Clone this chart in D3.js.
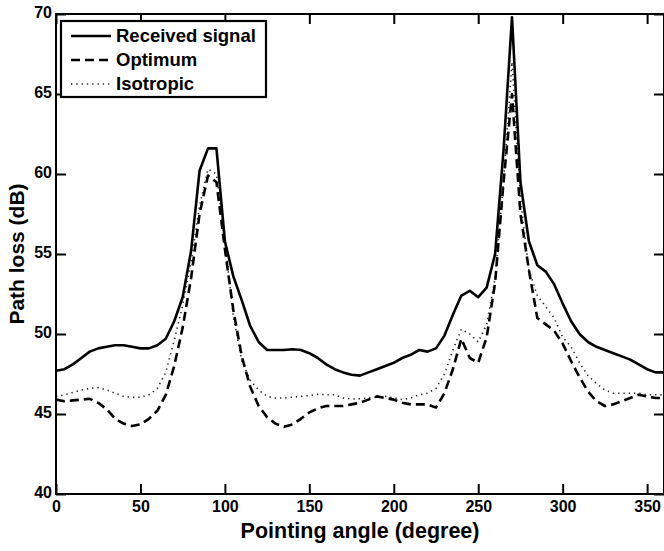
<!DOCTYPE html>
<html>
<head>
<meta charset="utf-8">
<script src="https://cdn.jsdelivr.net/npm/d3@7"></script>
<style>
  body { margin: 0; background: #fff; }
  svg { display: block; }
  text { font-family: "Liberation Sans", Arial, sans-serif; font-weight: bold; fill: #000; }
</style>
</head>
<body>
<div id="chart"></div>
<script>
// pointing angles (degree), one sample every 5 degrees
const angles = [0, 5, 10, 15, 20, 25, 30, 35, 40, 45, 50, 55, 60, 65, 70, 75, 80, 85, 90, 95,
  100, 105, 110, 115, 120, 125, 130, 135, 140, 145, 150, 155, 160, 165, 170, 175, 180, 185, 190, 195,
  200, 205, 210, 215, 220, 225, 230, 235, 240, 245, 250, 255, 260, 265, 270, 275, 280, 285, 290, 295,
  300, 305, 310, 315, 320, 325, 330, 335, 340, 345, 350, 355, 360];

const received = [47.7, 47.8, 48.1, 48.5, 48.9, 49.1, 49.2, 49.3, 49.3, 49.2, 49.1, 49.1, 49.3, 49.7, 50.8, 52.3, 55.2, 60.2, 61.6, 61.6,
  55.8, 53.6, 52.1, 50.5, 49.5, 49.0, 49.0, 49.0, 49.05, 49.0, 48.8, 48.5, 48.1, 47.8, 47.6, 47.45, 47.4, 47.6, 47.8, 48.0,
  48.2, 48.5, 48.7, 49.0, 48.9, 49.1, 49.9, 51.2, 52.4, 52.7, 52.3, 52.9, 55.0, 61.5, 69.8, 59.5, 55.8, 54.3, 53.9, 53.1,
  51.9, 50.8, 50.0, 49.5, 49.2, 49.0, 48.8, 48.6, 48.4, 48.1, 47.8, 47.6, 47.6];

const optimum = [45.9, 45.8, 45.85, 45.9, 45.95, 45.7, 45.3, 44.7, 44.4, 44.25, 44.35, 44.7, 45.2, 46.2, 48.0, 50.4, 53.5, 57.5, 59.9, 59.5,
  55.3, 51.5, 48.6, 46.7, 45.5, 44.8, 44.4, 44.2, 44.35, 44.7, 45.1, 45.35, 45.5, 45.5, 45.5, 45.6, 45.7, 45.9, 46.1, 46.0,
  45.9, 45.7, 45.6, 45.6, 45.6, 45.4, 46.3, 47.8, 49.7, 48.5, 48.2, 49.8, 53.2, 59.5, 65.0, 57.5, 54.0, 51.0, 50.6, 50.2,
  49.4, 48.3, 47.3, 46.4, 45.8, 45.5, 45.6, 45.8, 46.0, 46.2, 46.1, 46.0, 46.0];

const isotropic = [46.1, 46.2, 46.35, 46.5, 46.6, 46.65, 46.5, 46.3, 46.1, 46.04, 46.05, 46.2, 46.6, 47.6, 49.6, 51.8, 54.5, 58.0, 60.3, 60.0,
  55.8, 51.1, 48.3, 47.1, 46.5, 46.1, 46.0, 46.0, 46.05, 46.1, 46.15, 46.23, 46.2, 46.2, 46.0, 45.94, 45.95, 46.0, 46.05, 46.1,
  46.0, 45.9, 46.0, 46.2, 46.3, 46.6, 47.5, 49.0, 50.3, 50.0, 49.5, 50.6, 53.5, 59.5, 67.0, 58.5, 54.0, 52.4, 51.7, 51.0,
  49.8, 49.2, 48.2, 47.4, 46.9, 46.5, 46.3, 46.3, 46.3, 46.3, 46.2, 46.2, 46.2];

const xTicks = [0, 50, 100, 150, 200, 250, 300, 350];
const yTicks = [40, 45, 50, 55, 60, 65, 70];
const seriesNames = ['Received signal', 'Optimum', 'Isotropic'];

const svgWidth = 664;
const svgHeight = 551;
const margin = { top: 14, right: 0, bottom: 57, left: 56 };
const width = svgWidth - margin.left - margin.right;
const height = svgHeight - margin.top - margin.bottom;

const svg = d3.select('#chart')
    .append('svg')
    .attr('width', svgWidth)
    .attr('height', svgHeight)
    .append('g')
    .attr('transform', `translate(${margin.left},${margin.top})`);

const xScale = d3.scaleLinear().domain([0, 360]).range([0, width]);
const yScale = d3.scaleLinear().domain([40, 70]).range([height, 0]);

// line styles for the three series
const styles = [
    { data: received, dash: null, width: 2.6, color: '#000' },
    { data: optimum, dash: '9,5', width: 2.6, color: '#000' },
    { data: isotropic, dash: '1.3,4', width: 1.6, color: '#222' }
];

const line = d3.line()
    .x((d, i) => xScale(angles[i]))
    .y(d => yScale(d));

svg.append('clipPath').attr('id', 'clip')
    .append('rect').attr('width', width).attr('height', height);

const plot = svg.append('g').attr('clip-path', 'url(#clip)');

// draw isotropic first so the solid line sits on top
styles.slice().reverse().forEach(s => {
    plot.append('path')
        .datum(s.data)
        .attr('d', line)
        .attr('fill', 'none')
        .attr('stroke', s.color)
        .attr('stroke-width', s.width)
        .attr('stroke-dasharray', s.dash)
        .attr('stroke-linejoin', 'round');
});

// axes with inward ticks, mirrored on top and right
const tickLen = 10;
const xAxis = d3.axisBottom(xScale).tickValues(xTicks).tickSize(-tickLen).tickPadding(6);
const yAxis = d3.axisLeft(yScale).tickValues(yTicks).tickSize(-tickLen).tickPadding(4);

const gx = svg.append('g')
    .attr('transform', 'translate(0,' + height + ')')
    .call(xAxis);
const gy = svg.append('g').call(yAxis);

svg.append('g')
    .call(d3.axisTop(xScale).tickValues(xTicks).tickSize(-tickLen).tickFormat(''));
svg.append('g')
    .attr('transform', 'translate(' + width + ',0)')
    .call(d3.axisRight(yScale).tickValues(yTicks).tickSize(-tickLen).tickFormat(''));

svg.selectAll('.domain').remove();
svg.selectAll('.tick line').attr('stroke', '#000').attr('stroke-width', 2);

gx.selectAll('text').style('font-size', '16px').attr('dy', '0.75em');
gy.selectAll('text').style('font-size', '16px').attr('dy', '0.2em');

// frame
svg.append('rect')
    .attr('x', 0)
    .attr('y', 0)
    .attr('width', width)
    .attr('height', height)
    .style('fill', 'none')
    .style('stroke', 'black')
    .style('stroke-width', 2);

// axis labels
svg.append('text')
    .attr('x', width / 2)
    .attr('y', height + 44)
    .attr('text-anchor', 'middle')
    .style('font-size', '21.5px')
    .text('Pointing angle (degree)');

svg.append('text')
    .attr('x', -height / 2)
    .attr('y', -margin.left + 24)
    .attr('transform', 'rotate(-90)')
    .attr('text-anchor', 'middle')
    .style('font-size', '21px')
    .text('Path loss (dB)');

// legend
const legend = svg.append('g').attr('transform', 'translate(5,7)');
legend.append('rect')
    .attr('width', 205)
    .attr('height', 76)
    .style('fill', '#fff')
    .style('stroke', '#000')
    .style('stroke-width', 2.2);

seriesNames.forEach((name, i) => {
    const yy = 15 + i * 24;
    legend.append('line')
        .attr('x1', 10).attr('x2', 50)
        .attr('y1', yy).attr('y2', yy)
        .attr('stroke', styles[i].color)
        .attr('stroke-width', styles[i].width)
        .attr('stroke-dasharray', styles[i].dash);
    legend.append('text')
        .attr('x', 55)
        .attr('y', yy)
        .attr('dy', '0.35em')
        .style('font-size', '18.5px')
        .text(name);
});
</script>
</body>
</html>
